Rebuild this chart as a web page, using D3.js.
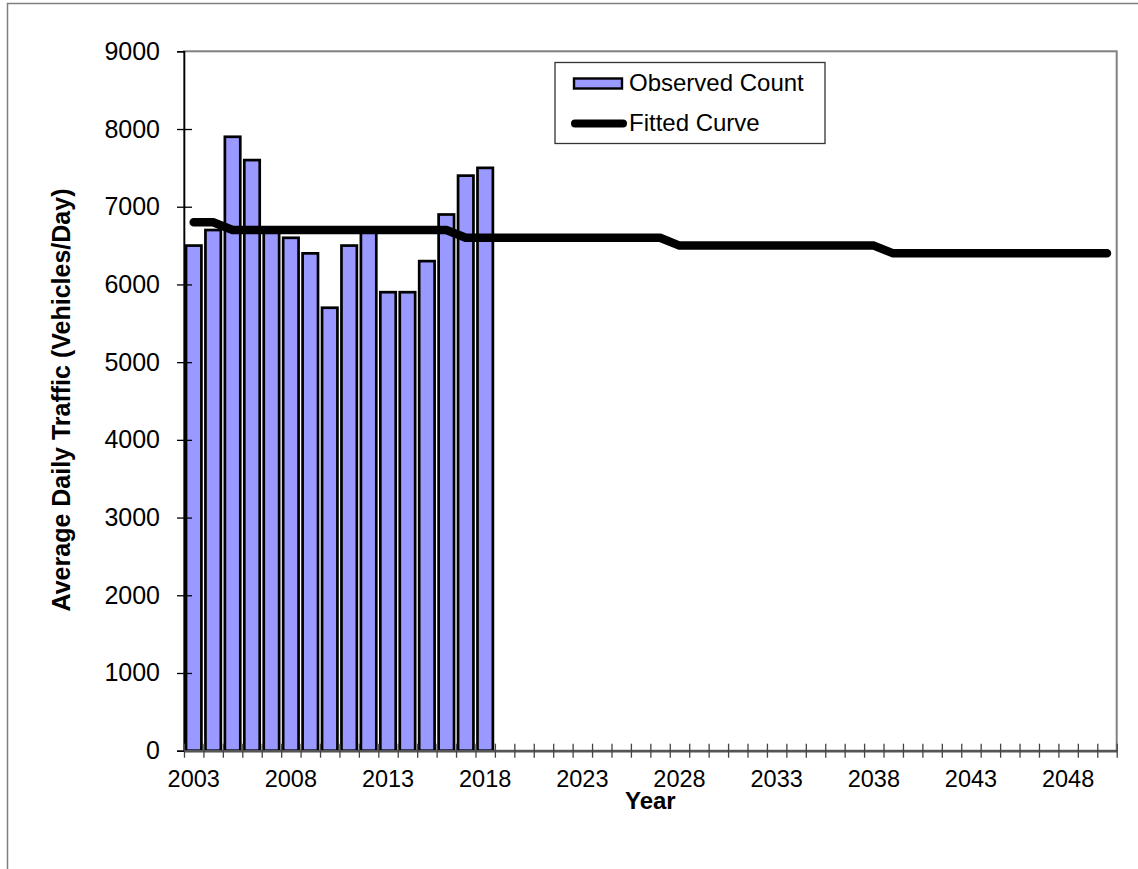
<!DOCTYPE html>
<html>
<head>
<meta charset="utf-8">
<script src="https://cdn.jsdelivr.net/npm/d3@7"></script>
<style>
  html, body { margin: 0; padding: 0; background: #fff; }
  svg { display: block; font-family: "Liberation Sans", Arial, sans-serif; }
</style>
</head>
<body>
<svg id="chart" width="1138" height="869"></svg>
<script>
// ---- data ----
const years = [2003,2004,2005,2006,2007,2008,2009,2010,2011,2012,2013,2014,2015,2016,2017,2018,
  2019,2020,2021,2022,2023,2024,2025,2026,2027,2028,2029,2030,2031,2032,2033,2034,2035,2036,
  2037,2038,2039,2040,2041,2042,2043,2044,2045,2046,2047,2048,2049,2050];
const observedYears = [2003,2004,2005,2006,2007,2008,2009,2010,2011,2012,2013,2014,2015,2016,2017,2018];
const observedCount = [6500,6700,7900,7600,6700,6600,6400,5700,6500,6700,5900,5900,6300,6900,7400,7500];
const fittedCurve = [6800,6800,6700,6700,6700,6700,6700,6700,6700,6700,6700,6700,6700,6700,6600,6600,
  6600,6600,6600,6600,6600,6600,6600,6600,6600,6500,6500,6500,6500,6500,6500,6500,6500,6500,
  6500,6500,6400,6400,6400,6400,6400,6400,6400,6400,6400,6400,6400,6400];
const yTicks = [0,1000,2000,3000,4000,5000,6000,7000,8000,9000];
const xLabelYears = [2003,2008,2013,2018,2023,2028,2033,2038,2043,2048];
const legendLabels = ["Observed Count", "Fitted Curve"];
const yTitle = "Average Daily Traffic (Vehicles/Day)";
const xTitle = "Year";

// ---- layout ----
const svg = d3.select("#chart");
const L = 184, T = 51.3, R = 1116.7, B = 750.7;
const barFill = "#9999FF";

// outer chart border
svg.append("rect").attr("x", 7.5).attr("y", 3.5).attr("width", 1140).attr("height", 880)
  .attr("fill", "none").attr("stroke", "#808080").attr("stroke-width", 1.5);

const x = d3.scaleBand().domain(years).range([L, R]).padding(0);
const xi = d3.scaleLinear().domain([0, years.length]).range([L, R]);
const y = d3.scaleLinear().domain([0, 9000]).range([B, T]);

// plot area border (gray)
svg.append("rect").attr("x", L).attr("y", T).attr("width", R - L).attr("height", B - T)
  .attr("fill", "none").attr("stroke", "#808080").attr("stroke-width", 2);

// bars
const bw = 15.4;
svg.append("g").selectAll("rect").data(observedYears.map((yr, i) => ({yr, v: observedCount[i]})))
  .join("rect")
  .attr("x", d => x(d.yr) + (x.bandwidth() - bw) / 2)
  .attr("width", bw)
  .attr("y", d => y(d.v))
  .attr("height", d => B - y(d.v))
  .attr("fill", barFill).attr("stroke", "#000").attr("stroke-width", 2.7);

// y axis
const ya = svg.append("g").attr("transform", `translate(${L},0)`)
  .call(d3.axisLeft(y).tickValues(yTicks).tickSizeOuter(0).tickSize(7).tickPadding(17).tickFormat(d3.format("d")));
ya.select(".domain").attr("stroke", "#000").attr("stroke-width", 1.6);
ya.selectAll(".tick line").attr("x1", -7).attr("x2", d => d === 9000 ? 0 : 8).attr("stroke", "#000").attr("stroke-width", 1.3);
ya.selectAll(".tick text").attr("font-size", 25).attr("fill", "#000")
  .attr("font-family", "Liberation Sans, Arial, sans-serif");

// x axis ticks at category boundaries
const xa = svg.append("g").attr("transform", `translate(0,${B})`)
  .call(d3.axisBottom(xi).tickValues(d3.range(0, years.length + 1)).tickSize(7).tickSizeOuter(0).tickFormat(""));
xa.select(".domain").attr("stroke", "#555").attr("stroke-width", 2.6);
xa.selectAll(".tick line").attr("y1", -7).attr("y2", 7).attr("stroke", "#444").attr("stroke-width", 1.3);

// x labels
const xl = svg.append("g").attr("transform", `translate(0,${B})`)
  .call(d3.axisBottom(x).tickValues(xLabelYears).tickSize(0).tickPadding(0));
xl.select(".domain").remove();
xl.selectAll(".tick text").attr("dy", null).attr("y", 36).attr("font-size", 23.5).attr("fill", "#000")
  .attr("font-family", "Liberation Sans, Arial, sans-serif");

// fitted line
const line = d3.line().x((d, i) => x(years[i]) + x.bandwidth() / 2).y(d => y(d));
svg.append("path").datum(fittedCurve).attr("d", line)
  .attr("fill", "none").attr("stroke", "#000").attr("stroke-width", 8.5)
  .attr("stroke-linecap", "round").attr("stroke-linejoin", "round");

// legend
const lg = svg.append("g");
lg.append("rect").attr("x", 555).attr("y", 62.5).attr("width", 270).attr("height", 81)
  .attr("fill", "#fff").attr("stroke", "#333").attr("stroke-width", 1.3);
lg.append("rect").attr("x", 574).attr("y", 78.5).attr("width", 48).attr("height", 10)
  .attr("fill", barFill).attr("stroke", "#000").attr("stroke-width", 2.4);
lg.append("line").attr("x1", 575).attr("x2", 623).attr("y1", 123.5).attr("y2", 123.5)
  .attr("stroke", "#000").attr("stroke-width", 8).attr("stroke-linecap", "round");
lg.selectAll("text.lt").data(legendLabels).join("text").attr("class", "lt")
  .attr("x", 629).attr("y", (d, i) => 91 + i * 40)
  .attr("font-size", 24).attr("fill", "#000").text(d => d);

// axis titles
svg.append("text").attr("transform", `translate(70,400) rotate(-90)`)
  .attr("text-anchor", "middle").attr("font-size", 25).attr("font-weight", "bold").attr("fill", "#000")
  .text(yTitle);
svg.append("text").attr("x", (L + R) / 2).attr("y", 809)
  .attr("text-anchor", "middle").attr("font-size", 24).attr("font-weight", "bold").attr("fill", "#000")
  .text(xTitle);
</script>
</body>
</html>
